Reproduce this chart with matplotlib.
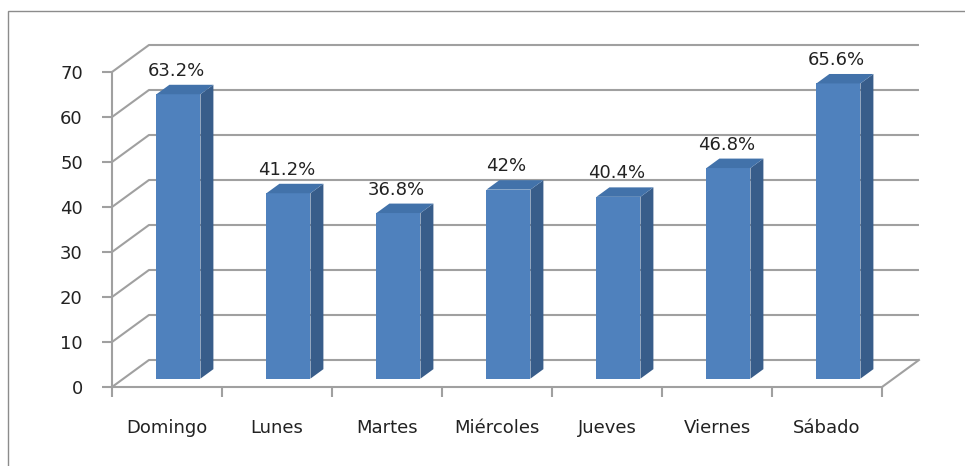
import matplotlib
matplotlib.use("Agg")
import matplotlib.pyplot as plt
from matplotlib.patches import Polygon, Rectangle

categories = ["Domingo", "Lunes", "Martes", "Miércoles", "Jueves", "Viernes", "Sábado"]
values = [63.2, 41.2, 36.8, 42, 40.4, 46.8, 65.6]
value_labels = ["63.2%", "41.2%", "36.8%", "42%", "40.4%", "46.8%", "65.6%"]
y_ticks = [0, 10, 20, 30, 40, 50, 60, 70]

W, H = 965, 466
fig = plt.figure(figsize=(W / 100, H / 100), dpi=100)
fig.patch.set_facecolor("white")

# outer chart border (right/bottom edges lie outside the image)
fig.patches.append(Rectangle((8 / W, -0.1), 1.2, (H - 11) / H + 0.1,
                             transform=fig.transFigure, fill=False,
                             edgecolor="#8c8c8c", lw=1.0))

ax = fig.add_axes([112 / W, (H - 387) / H, (882 - 112) / W, (387 - 72) / H])
ax.set_facecolor("none")
ax.set_xlim(-0.5, len(categories) - 0.5)
ax.set_ylim(0, 70)

grid_c = "#a0a0a0"
text_c = "#222222"
DX, DY = 0.336, 6.0          # depth offset of back wall (data units)
F1, F2 = 0.31, 0.66          # bar depth range (fraction of depth)
BW = 0.4                     # bar width

x0, x1 = -0.5, len(categories) - 0.5
# back wall gridlines and left wall diagonals
for v in y_ticks:
    ax.plot([x0, x0 + DX, x1 + DX], [v, v + DY, v + DY], color=grid_c,
            lw=1.5, clip_on=False, zorder=1, solid_capstyle="butt")
# right floor edge
ax.plot([x1, x1 + DX], [0, DY], color=grid_c, lw=1.5, clip_on=False, zorder=1)

front_c = "#4F81BD"
side_c = "#385D8A"
top_c = "#4272AA"
xs = list(range(len(categories)))
ax.bar([x + F1 * DX for x in xs], values, width=BW, bottom=F1 * DY,
       color=front_c, zorder=3, clip_on=False)
for x, v, lab in zip(xs, values, value_labels):
    l = x - BW / 2
    r = x + BW / 2
    side = [(r + F1 * DX, F1 * DY), (r + F2 * DX, F2 * DY),
            (r + F2 * DX, v + F2 * DY), (r + F1 * DX, v + F1 * DY)]
    top = [(l + F1 * DX, v + F1 * DY), (r + F1 * DX, v + F1 * DY),
           (r + F2 * DX, v + F2 * DY), (l + F2 * DX, v + F2 * DY)]
    ax.add_patch(Polygon(side, closed=True, facecolor=side_c, edgecolor="none",
                         zorder=3, clip_on=False))
    ax.add_patch(Polygon(top, closed=True, facecolor=top_c, edgecolor="none",
                         zorder=3, clip_on=False))
    ax.text(x + F1 * DX - 0.02, v + F2 * DY + 2.0, lab, ha="center",
            va="baseline", fontsize=13, color=text_c, zorder=4, clip_on=False)

for s in ["top", "right"]:
    ax.spines[s].set_visible(False)
for s in ["left", "bottom"]:
    ax.spines[s].set_color(grid_c)
    ax.spines[s].set_linewidth(1.5)
    ax.spines[s].set_zorder(2)

ax.set_yticks(y_ticks)
ax.set_yticklabels([str(v) for v in y_ticks])
ax.tick_params(axis="y", direction="out", length=7, width=1.5, color=grid_c,
               labelsize=13, labelcolor=text_c, pad=14)
ax.set_xticks(xs)
ax.set_xticklabels(categories)
ax.set_xticks([x - 0.5 for x in xs] + [x1], minor=True)
ax.tick_params(axis="x", which="major", length=0, labelsize=13,
               labelcolor=text_c, pad=23)
ax.tick_params(axis="x", which="minor", direction="out", length=7, width=1.5,
               color=grid_c)

fig.savefig("out.png", dpi=100, facecolor="white")
